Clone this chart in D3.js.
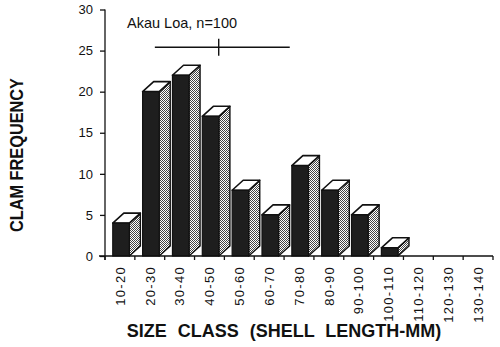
<!DOCTYPE html>
<html>
<head>
<meta charset="utf-8">
<script src="https://cdn.jsdelivr.net/npm/d3@7"></script>
<style>
  html, body { margin: 0; padding: 0; background: #fff; }
  svg { display: block; font-family: "Liberation Sans", Arial, Helvetica, sans-serif; }
</style>
</head>
<body>
<svg id="chart" width="500" height="347"></svg>
<script>
// Shell length size classes (mm) and number of clams in each
const sizeClasses = ["10-20", "20-30", "30-40", "40-50", "50-60", "60-70", "70-80",
                     "80-90", "90-100", "100-110", "110-120", "120-130", "130-140"];
const frequencies = [4, 20, 22, 17, 8, 5, 11, 8, 5, 1, 0, 0, 0];
const yTicks = [0, 5, 10, 15, 20, 25, 30];

// Mean shell length with its spread (mm), drawn as a bar above the histogram
const sampleLabel = "Akau Loa, n=100";
const lengthStats = { low: 26.7, mean: 48.1, high: 71.9 };
const statsRowLevel = 25.4;

const svg = d3.select("#chart");

const plotLeft = 105, plotRight = 493, plotTop = 9.5, plotBottom = 256;

const x = d3.scaleBand().domain(sizeClasses).range([plotLeft, plotRight]).padding(0);
const xLen = d3.scaleLinear().domain([10, 140]).range([plotLeft, plotRight]);
const y = d3.scaleLinear().domain([0, 30]).range([plotBottom, plotTop]);

// stipple used for the shaded side of each block
const defs = svg.append("defs");
const pat = defs.append("pattern")
  .attr("id", "stipple").attr("patternUnits", "userSpaceOnUse")
  .attr("width", 2).attr("height", 2);
pat.append("rect").attr("width", 2).attr("height", 2).attr("fill", "#fff");
pat.append("rect").attr("x", 0).attr("y", 0).attr("width", 1).attr("height", 1).attr("fill", "#444");
pat.append("rect").attr("x", 1).attr("y", 1).attr("width", 1).attr("height", 1).attr("fill", "#444");

const bw = x.bandwidth();
const frontOff = bw * 0.26, frontW = bw * 0.555, depthX = bw * 0.37, depthY = 10;

const data = sizeClasses.map((c, i) => ({ c, v: frequencies[i] }));

const bars = svg.append("g").selectAll("g")
  .data(data.filter(d => d.v > 0))
  .join("g");

// side face
bars.append("path")
  .attr("d", d => {
    const x1 = x(d.c) + frontOff + frontW, yt = y(d.v), yb = y(0);
    return `M${x1},${yt}L${x1 + depthX},${yt - depthY}L${x1 + depthX},${yb - depthY}L${x1},${yb}Z`;
  })
  .attr("fill", "url(#stipple)")
  .attr("stroke", "#111").attr("stroke-width", 1.4).attr("stroke-linejoin", "round");

// top face
bars.append("path")
  .attr("d", d => {
    const x0 = x(d.c) + frontOff, x1 = x0 + frontW, yt = y(d.v);
    return `M${x0},${yt}L${x0 + depthX},${yt - depthY}L${x1 + depthX},${yt - depthY}L${x1},${yt}Z`;
  })
  .attr("fill", "#fff")
  .attr("stroke", "#111").attr("stroke-width", 1.6).attr("stroke-linejoin", "round");

// front face
bars.append("rect")
  .attr("x", d => x(d.c) + frontOff)
  .attr("y", d => y(d.v))
  .attr("width", frontW)
  .attr("height", d => y(0) - y(d.v))
  .attr("fill", "#1e1e1e")
  .attr("stroke", "#111").attr("stroke-width", 1.2);

// y axis
const yAxis = svg.append("g")
  .attr("transform", `translate(${plotLeft},0)`)
  .call(d3.axisLeft(y).tickValues(yTicks).tickSize(5).tickPadding(7).tickSizeOuter(0));
yAxis.select(".domain").attr("stroke", "#111").attr("stroke-width", 1.3)
  .attr("d", `M0,${plotTop}V${plotBottom + 4}`);
yAxis.selectAll(".tick line").attr("stroke", "#111").attr("stroke-width", 1.3);
yAxis.selectAll(".tick text").attr("font-size", 13).attr("fill", "#111")
  .attr("font-family", "'Liberation Sans', Arial, sans-serif");

// x axis: ticks at the class boundaries
const xAxisG = svg.append("g");
xAxisG.append("line")
  .attr("x1", plotLeft - 6).attr("x2", plotRight).attr("y1", plotBottom).attr("y2", plotBottom)
  .attr("stroke", "#111").attr("stroke-width", 1.3);
const bounds = sizeClasses.map(c => x(c)).concat([plotRight]);
xAxisG.selectAll("line.b").data(bounds).join("line").attr("class", "b")
  .attr("x1", d => d).attr("x2", d => d)
  .attr("y1", plotBottom).attr("y2", plotBottom + 4)
  .attr("stroke", "#111").attr("stroke-width", 1.3);
xAxisG.selectAll("text").data(sizeClasses).join("text")
  .attr("transform", c => `translate(${x(c) + bw / 2 + 4.8},${plotBottom + 10}) rotate(-90)`)
  .attr("text-anchor", "end")
  .attr("font-size", 13)
  .attr("letter-spacing", 1.3)
  .attr("fill", "#111")
  .text(c => c);

// axis titles
svg.append("text")
  .attr("transform", "translate(23,155) rotate(-90)")
  .attr("text-anchor", "middle")
  .attr("font-size", 17.5).attr("font-weight", "bold").attr("fill", "#111")
  .attr("textLength", 154).attr("lengthAdjust", "spacingAndGlyphs")
  .text("CLAM FREQUENCY");

svg.append("text")
  .attr("x", 284).attr("y", 337)
  .attr("text-anchor", "middle")
  .attr("font-size", 18).attr("font-weight", "bold").attr("fill", "#111")
  .attr("word-spacing", 6)
  .text("SIZE CLASS (SHELL LENGTH-MM)");

// sample label and length statistics
svg.append("text")
  .attr("x", 127).attr("y", 28)
  .attr("font-size", 14.5).attr("fill", "#111")
  .text(sampleLabel);

const ys = y(statsRowLevel);
svg.append("line")
  .attr("x1", xLen(lengthStats.low)).attr("x2", xLen(lengthStats.high))
  .attr("y1", ys).attr("y2", ys)
  .attr("stroke", "#111").attr("stroke-width", 1.4);
svg.append("line")
  .attr("x1", xLen(lengthStats.mean)).attr("x2", xLen(lengthStats.mean))
  .attr("y1", ys - 8.5).attr("y2", ys + 8.5)
  .attr("stroke", "#111").attr("stroke-width", 1.4);
</script>
</body>
</html>
